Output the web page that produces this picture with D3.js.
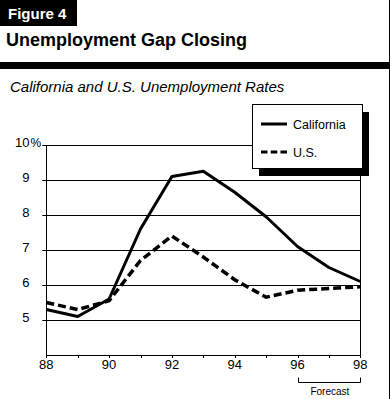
<!DOCTYPE html>
<html>
<head>
<meta charset="utf-8">
<script src="https://cdn.jsdelivr.net/npm/d3@7"></script>
<style>
  body { margin: 0; background: #fff; }
  svg { display: block; font-family: "Liberation Sans", Arial, sans-serif; }
</style>
</head>
<body>
<div id="chart"></div>
<script>
// Data
const years = [1988, 1989, 1990, 1991, 1992, 1993, 1994, 1995, 1996, 1997, 1998];
const california = [5.3, 5.1, 5.6, 7.6, 9.1, 9.25, 8.65, 7.95, 7.1, 6.5, 6.1];
const us = [5.5, 5.3, 5.55, 6.7, 7.4, 6.8, 6.15, 5.65, 5.85, 5.9, 5.95];
const yTicks = [5, 6, 7, 8, 9, 10];
const xLabels = [1988, 1990, 1992, 1994, 1996, 1998];

const width = 390, height = 399;
const svg = d3.select('#chart').append('svg')
    .attr('width', width)
    .attr('height', height);

// Header: tab, title, rule, right border
svg.append('rect').attr('x', 0).attr('y', 0).attr('width', 77).attr('height', 26).attr('fill', '#000');
svg.append('text').attr('x', 8).attr('y', 18.5)
    .attr('fill', '#fff').attr('font-weight', 'bold').attr('font-size', 15)
    .text('Figure 4');
svg.append('text').attr('x', 6).attr('y', 45.5)
    .attr('font-weight', 'bold').attr('font-size', 18)
    .text('Unemployment Gap Closing');
svg.append('rect').attr('x', 0).attr('y', 62).attr('width', 389).attr('height', 7).attr('fill', '#000');
svg.append('line').attr('x1', 389.5).attr('x2', 389.5).attr('y1', 0).attr('y2', height)
    .attr('stroke', '#000').attr('stroke-width', 1);
svg.append('text').attr('x', 10).attr('y', 91.5)
    .attr('font-style', 'italic').attr('font-size', 15)
    .text('California and U.S. Unemployment Rates');

// Scales
const x = d3.scaleLinear().domain([1988, 1998]).range([46.3, 360.3]);
const y = d3.scaleLinear().domain([4, 10]).range([355, 145]);

const plot = svg.append('g');

// Gridlines
plot.selectAll('line.grid')
    .data(yTicks)
    .join('line')
    .attr('class', 'grid')
    .attr('x1', x(1988) - 4).attr('x2', x(1998))
    .attr('y1', d => Math.round(y(d)) + 0.5).attr('y2', d => Math.round(y(d)) + 0.5)
    .attr('stroke', '#000').attr('stroke-width', 1);

// Frame: left, right, bottom
plot.append('line')
    .attr('x1', Math.round(x(1988)) + 0.5).attr('x2', Math.round(x(1988)) + 0.5)
    .attr('y1', y(10)).attr('y2', y(4))
    .attr('stroke', '#000');
plot.append('line')
    .attr('x1', Math.round(x(1998)) + 0.5).attr('x2', Math.round(x(1998)) + 0.5)
    .attr('y1', y(10)).attr('y2', y(4))
    .attr('stroke', '#000');
plot.append('line')
    .attr('x1', x(1988)).attr('x2', x(1998) + 0.5)
    .attr('y1', Math.round(y(4)) + 0.5).attr('y2', Math.round(y(4)) + 0.5)
    .attr('stroke', '#000');

// X ticks every year
plot.selectAll('line.xtick')
    .data(years)
    .join('line')
    .attr('class', 'xtick')
    .attr('x1', d => Math.round(x(d)) + 0.5).attr('x2', d => Math.round(x(d)) + 0.5)
    .attr('y1', y(4)).attr('y2', y(4) + 3)
    .attr('stroke', '#000');

// X labels
plot.selectAll('text.xlab')
    .data(xLabels)
    .join('text')
    .attr('class', 'xlab')
    .attr('x', d => x(d))
    .attr('y', 369)
    .attr('text-anchor', 'middle')
    .attr('font-size', 13)
    .text(d => String(d).slice(2));

// Y labels (digits right-aligned, % hangs after)
plot.selectAll('text.ylab')
    .data(yTicks)
    .join('text')
    .attr('class', 'ylab')
    .attr('x', 29.5)
    .attr('y', d => y(d) + 1.5)
    .attr('text-anchor', 'end')
    .attr('font-size', 13)
    .text(d => d);
plot.append('text')
    .attr('x', 30.5).attr('y', y(10) + 1.5)
    .attr('font-size', 12)
    .text('%');

// Lines
const line = d3.line()
    .x((d, i) => x(years[i]))
    .y(d => y(d));

plot.append('path')
    .datum(us)
    .attr('d', line)
    .attr('fill', 'none')
    .attr('stroke', '#000')
    .attr('stroke-width', 3.5)
    .attr('stroke-dasharray', '8,4');

plot.append('path')
    .datum(california)
    .attr('d', line)
    .attr('fill', 'none')
    .attr('stroke', '#000')
    .attr('stroke-width', 3)
    .attr('stroke-linejoin', 'round');

// Forecast bracket
const fy = 382.5;
plot.append('path')
    .attr('d', `M${Math.round(x(1996)) + 0.5},377.5V${fy}H${Math.round(x(1998)) + 0.5}V377.5`)
    .attr('fill', 'none').attr('stroke', '#000');
plot.append('text')
    .attr('x', (x(1996) + x(1998)) / 2 + 1)
    .attr('y', 395)
    .attr('text-anchor', 'middle')
    .attr('font-size', 10)
    .text('Forecast');

// Legend with drop shadow
const legend = svg.append('g').attr('transform', 'translate(252,104)');
legend.append('rect').attr('x', 7).attr('y', 8).attr('width', 110).attr('height', 64).attr('fill', '#000');
legend.append('rect').attr('x', 0.5).attr('y', 0.5).attr('width', 110).attr('height', 64)
    .attr('fill', '#fff').attr('stroke', '#000');

const legendItems = [
    { name: 'California', dash: null, y: 20 },
    { name: 'U.S.', dash: '6.5,3.25', y: 48 }
];
legendItems.forEach(d => {
    legend.append('line')
        .attr('x1', 9).attr('x2', 35)
        .attr('y1', d.y).attr('y2', d.y)
        .attr('stroke', '#000').attr('stroke-width', 3)
        .attr('stroke-dasharray', d.dash);
    legend.append('text')
        .attr('x', 41).attr('y', d.y + 4.5)
        .attr('font-size', 12.5)
        .text(d.name);
});
</script>
</body>
</html>
